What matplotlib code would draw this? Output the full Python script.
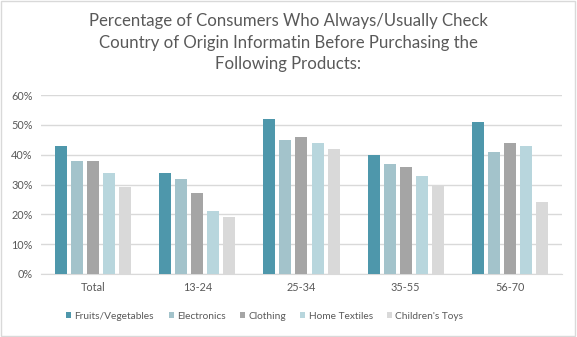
import numpy as np
import matplotlib.pyplot as plt
from matplotlib.patches import Rectangle

# survey shares (%) by age group
groups = ['Total', '13-24', '25-34', '35-55', '56-70']
products = ['Fruits/Vegetables', 'Electronics', 'Clothing', 'Home Textiles', "Children's Toys"]
fruits = [43, 34, 52, 40, 51]
electronics = [38, 32, 45, 37, 41]
clothing = [38, 27, 46, 36, 44]
textiles = [34, 21, 44, 33, 43]
toys = [29, 19, 42, 30, 24]
colors = ['#4E97AB', '#A3C3CB', '#A5A5A5', '#B8D6DD', '#D9D9D9']

plt.rcParams['font.family'] = ['Lato', 'DejaVu Sans']
txt = '#595959'

fig = plt.figure(figsize=(5.77, 3.37), dpi=100)
ax = fig.add_axes([0.071, 0.187, 0.903, 0.531])

x = np.arange(len(groups))
slot = 0.154
width = 0.115
for i, (vals, c, name) in enumerate(zip([fruits, electronics, clothing, textiles, toys], colors, products)):
    ax.bar(x + (i - 2) * slot, np.array(vals) / 100, width, color=c, label=name, zorder=3)

ax.set_xlim(-0.5, len(groups) - 0.5)
ax.set_ylim(0, 0.6)
ax.set_yticks(np.arange(0, 0.61, 0.1))
ax.set_yticklabels([f'{int(round(v * 100))}%' for v in np.arange(0, 0.61, 0.1)])
ax.set_xticks(x)
ax.set_xticklabels(groups)
ax.tick_params(length=0, colors=txt, labelsize=7.8, pad=6)
ax.tick_params(axis='y', pad=6)
ax.grid(axis='y', color='#D9D9D9', linewidth=1, zorder=0)
for s in ['top', 'right', 'left']:
    ax.spines[s].set_visible(False)
ax.spines['bottom'].set_color('#D9D9D9')

fig.text(0.5, 0.96, 'Percentage of Consumers Who Always/Usually Check\n'
         'Country of Origin Informatin Before Purchasing the\n'
         'Following Products:', ha='center', va='top', fontsize=12.1,
         color=txt, linespacing=1.42)

fig.legend(loc='center', bbox_to_anchor=(0.459, 0.062), ncol=5, frameon=False,
           fontsize=7.3, labelcolor=txt, handlelength=0.5, handleheight=0.5,
           handletextpad=0.3, columnspacing=1.45)

fig.patches.append(Rectangle((0.002, 0.003), 0.995, 0.994, transform=fig.transFigure,
                             fill=False, edgecolor='#D9D9D9', linewidth=1))

fig.savefig('out.png', dpi=100)
